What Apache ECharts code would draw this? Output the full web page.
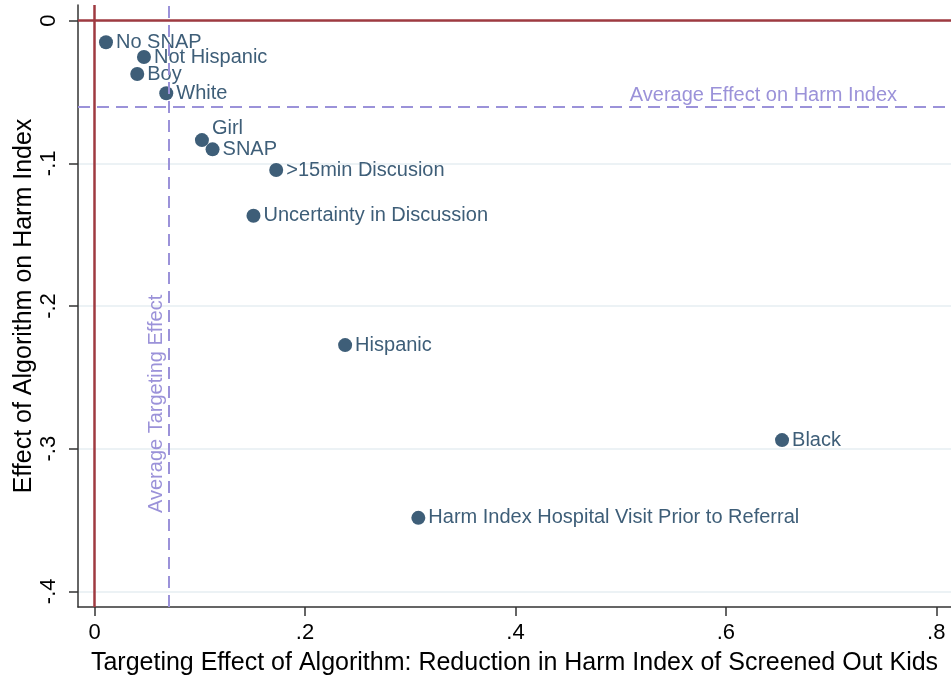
<!DOCTYPE html>
<html>
<head>
<meta charset="utf-8">
<script src="https://cdn.jsdelivr.net/npm/echarts@6/dist/echarts.min.js"></script>
<style>
html,body{margin:0;padding:0;background:#fff;}
#chart{width:951px;height:676px;}
</style>
</head>
<body>
<div id="chart"></div>
<script>
const categories = ['No SNAP','Not Hispanic','Boy','White','Girl','SNAP','>15min Discusion','Uncertainty in Discussion','Hispanic','Black','Harm Index Hospital Visit Prior to Referral'];
const targetingEffect = [0.0108,0.0469,0.0405,0.0681,0.1020,0.1121,0.1726,0.1510,0.2381,0.6534,0.3077];
const harmEffect = [-0.0151,-0.0255,-0.0374,-0.0509,-0.0837,-0.0902,-0.1047,-0.1367,-0.2274,-0.2940,-0.3485];
const xTicks = [0,0.2,0.4,0.6,0.8];
const yTicks = [-0.4,-0.3,-0.2,-0.1,0];
const avgTargetingEffect = 0.0728;
const avgHarmEffect = -0.0607;
const xTitle = 'Targeting Effect of Algorithm: Reduction in Harm Index of Screened Out Kids';
const yTitle = 'Effect of Algorithm on Harm Index';

const FONT = '"Liberation Sans", Arial, Helvetica, sans-serif';
const PT = '#3e5e78';
const PURPLE = '#9b92d9';
const RED = '#9f3a40';

function fmt(v){
  if (Math.abs(v) < 1e-9) return '0';
  return String(+v.toFixed(3)).replace('0.', '.');
}

const pts = categories.map((c,i)=>{
  const d = {name:c, value:[targetingEffect[i], harmEffect[i]]};
  if (c === 'Girl') d.label = {offset:[0,-12]};
  return d;
});

const chart = echarts.init(document.getElementById('chart'), null, {renderer:'canvas'});
chart.setOption({
  animation:false,
  backgroundColor:'#fff',
  textStyle:{fontFamily:FONT},
  grid:{left:78, right:0, top:5, bottom:69, containLabel:false, outerBoundsMode:'none'},
  xAxis:{
    type:'value', min:-0.0158, max:0.814,
    name:xTitle, nameLocation:'middle', nameGap:44, nameMoveOverlap:false,
    nameTextStyle:{fontSize:25, color:'#000', fontFamily:FONT},
    axisLine:{show:true, onZero:false, lineStyle:{color:'#333', width:1.5}},
    axisTick:{show:true, length:9, customValues:xTicks, lineStyle:{color:'#333', width:1.5}},
    axisLabel:{customValues:xTicks, formatter:fmt, fontSize:22, color:'#000', margin:15, fontFamily:FONT},
    splitLine:{show:false}
  },
  yAxis:{
    type:'value', min:-0.411, max:0.011,
    name:yTitle, nameLocation:'middle', nameGap:41, nameRotate:90, nameMoveOverlap:false,
    nameTextStyle:{fontSize:25, color:'#000', fontFamily:FONT},
    axisLine:{show:true, onZero:false, lineStyle:{color:'#333', width:1.5}},
    axisTick:{show:true, length:9, customValues:yTicks, lineStyle:{color:'#333', width:1.5}},
    axisLabel:{customValues:yTicks, formatter:fmt, fontSize:22, color:'#000', margin:18, rotate:90, fontFamily:FONT},
    splitLine:{show:true, lineStyle:{color:'#e6eef2', width:1.5}}
  },
  series:[
    {
      type:'scatter', data:[], z:1, silent:true,
      markLine:{
        silent:true, symbol:'none', animation:false,
        data:[
          {xAxis:0, lineStyle:{color:RED, width:2.5, type:'solid'}, label:{show:false}},
          {yAxis:0, lineStyle:{color:RED, width:2.5, type:'solid'}, label:{show:false}},
          {xAxis:avgTargetingEffect, lineStyle:{color:PURPLE, width:2, type:[12,7]},
            label:{show:true, formatter:'Average Targeting Effect', position:'insideStartTop', distance:[94,2], color:PURPLE, fontSize:20, fontFamily:FONT}},
          {yAxis:avgHarmEffect, lineStyle:{color:PURPLE, width:2, type:[12,7]},
            label:{show:true, formatter:'Average Effect on Harm Index', position:'insideEndTop', distance:[54,1], color:PURPLE, fontSize:20, fontFamily:FONT}}
        ]
      }
    },
    {
      type:'scatter', z:3,
      symbol:'circle', symbolSize:14,
      itemStyle:{color:PT, opacity:1},
      label:{show:true, position:'right', distance:3, formatter:'{b}', color:PT, fontSize:20, fontFamily:FONT},
      data:pts
    }
  ]
});
</script>
</body>
</html>
